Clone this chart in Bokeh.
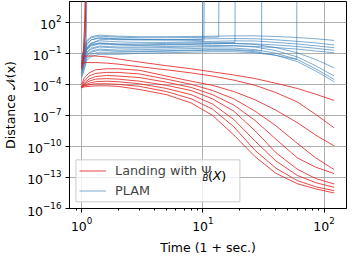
from bokeh.plotting import figure
from bokeh.models import Range1d, FixedTicker, Legend, LegendItem, Label, BoxAnnotation
from bokeh.embed import file_html
from bokeh.resources import INLINE

# time axis (1 + seconds) and log10 of the distance
t_red = [1, 1.05, 1.15, 1.3, 1.6, 2, 3, 5, 8, 12, 18, 27, 40, 60, 85, 121]
red_1 = [-2.0, -1.27, -1.27, -1.27, -1.35, -1.55, -1.85, -2.2, -2.5, -2.8, -3.1, -3.45, -3.9, -4.4, -4.95, -5.56]
red_2 = [-2.2, -1.9, -1.9, -1.9, -1.95, -2.05, -2.3, -2.6, -2.9, -3.2, -3.6, -4.1, -4.8, -5.7, -6.9, -8.2]
red_3 = [-4.0, -3.4, -2.9, -2.6, -2.5, -2.5, -2.65, -3.2, -3.7, -4.1, -4.7, -5.5, -6.5, -7.7, -8.9, -9.95]
red_4 = [-4.2, -3.7, -3.2, -2.95, -2.85, -2.85, -3.0, -3.5, -4.0, -4.6, -5.4, -6.6, -8.0, -9.7, -11.1, -12.24]
red_5 = [-4.25, -3.9, -3.5, -3.25, -3.15, -3.2, -3.35, -3.8, -4.3, -5.0, -6.0, -7.5, -9.3, -11.1, -12.0, -12.63]
red_6 = [-4.3, -4.0, -3.7, -3.5, -3.45, -3.5, -3.7, -4.1, -4.6, -5.4, -6.6, -8.5, -10.6, -12.2, -13.1, -13.63]
red_7 = [-4.3, -4.1, -3.9, -3.75, -3.7, -3.75, -3.95, -4.4, -5.0, -5.9, -7.4, -9.5, -11.4, -12.8, -13.5, -13.95]
red_8 = [-4.3, -4.15, -4.05, -3.95, -3.95, -4.0, -4.2, -4.7, -5.4, -6.4, -8.1, -10.4, -12.1, -13.3, -13.9, -14.28]
red_9 = [-4.35, -4.25, -4.2, -4.15, -4.15, -4.2, -4.5, -5.0, -5.8, -7.0, -8.9, -11.0, -12.6, -13.6, -14.1, -14.5]
red_div_t1 = [1, 1.03, 1.06, 1.09]
red_div_1 = [-2.4, -1.0, 2.0, 8.0]
red_div_t2 = [1, 1.04, 1.07, 1.1]
red_div_2 = [-2.6, -1.5, 1.0, 8.0]

t_blue = [1, 1.05, 1.1, 1.2, 1.4, 1.7, 2, 3, 5, 8, 12, 18, 27, 40, 60, 85, 121]
blue_1 = [-1.4, -0.5, 0.2, 0.6, 0.75, 0.7, 0.65, 0.6, 0.6, 0.62, 0.65, 0.68, 0.68, 0.62, 0.52, 0.4, 0.24]
blue_2 = [-1.8, -0.9, -0.1, 0.3, 0.45, 0.4, 0.35, 0.3, 0.3, 0.35, 0.4, 0.42, 0.4, 0.3, 0.15, 0.0, -0.2]
blue_3 = [-2.0, -1.2, -0.4, 0.0, 0.2, 0.15, 0.1, 0.05, 0.05, 0.1, 0.15, 0.2, 0.18, 0.05, -0.1, -0.28, -0.46]
blue_4 = [-2.3, -1.5, -0.7, -0.3, -0.1, -0.15, -0.2, -0.25, -0.2, -0.15, -0.1, -0.05, -0.1, -0.2, -0.35, -0.52, -0.72]
blue_5 = [-2.6, -1.8, -1.0, -0.6, -0.4, -0.45, -0.5, -0.5, -0.45, -0.4, -0.35, -0.3, -0.35, -0.45, -0.6, -0.78, -0.95]
blue_6 = [-2.0, -1.3, -0.6, -0.2, -0.05, -0.1, -0.15, -0.2, -0.15, -0.1, -0.05, -0.05, -0.15, -0.45, -0.95, -1.6, -2.4]
blue_7 = [-2.4, -1.6, -0.9, -0.5, -0.3, -0.35, -0.4, -0.4, -0.35, -0.3, -0.25, -0.25, -0.4, -0.75, -1.35, -2.2, -3.2]
blue_8 = [-2.8, -2.0, -1.2, -0.8, -0.6, -0.65, -0.7, -0.65, -0.6, -0.55, -0.5, -0.5, -0.65, -1.0, -1.6, -2.5, -3.53]
blue_9 = [-3.2, -2.4, -1.5, -1.1, -0.9, -0.9, -0.9, -0.85, -0.8, -0.75, -0.7, -0.7, -0.85, -1.2, -1.8, -2.7, -3.75]

blue_d1_t = [1, 1.05, 1.1, 1.2, 1.4, 1.7, 2, 3, 5, 8, 10.2, 10.3]
blue_d1 = [-1.7, -1.0, -0.2, 0.3, 0.5, 0.45, 0.4, 0.35, 0.3, 0.25, 0.2, 8]
blue_d2_t = [1, 1.05, 1.1, 1.2, 1.4, 1.7, 2, 3, 5, 8, 9.95, 10.0]
blue_d2 = [-2.1, -1.4, -0.6, -0.1, 0.3, 0.35, 0.3, 0.3, 0.3, 0.32, 0.34, 8]
blue_d3_t = [1, 1.05, 1.1, 1.2, 1.4, 1.7, 2, 3, 5, 8, 12, 13.5, 13.6]
blue_d3 = [-1.5, -0.6, 0.1, 0.5, 0.65, 0.6, 0.55, 0.5, 0.5, 0.52, 0.55, 0.57, 8]
blue_d4_t = [1, 1.05, 1.1, 1.2, 1.4, 1.7, 2, 3, 5, 8, 12, 18.4, 18.5]
blue_d4 = [-2.2, -1.4, -0.5, -0.15, 0.0, -0.05, -0.1, -0.1, -0.05, 0.0, 0.02, 0.05, 8]
blue_d5_t = [1, 1.05, 1.1, 1.2, 1.4, 1.7, 2, 3, 5, 8, 12, 18, 27, 30.5, 30.6]
blue_d5 = [-2.9, -2.1, -1.3, -0.9, -0.7, -0.75, -0.8, -0.8, -0.75, -0.7, -0.65, -0.65, -0.75, -0.8, 8]
blue_d6_t = [1, 1.05, 1.1, 1.2, 1.4, 1.7, 2, 3, 5, 8, 12, 18, 27, 40, 59.5, 59.6]
blue_d6 = [-3.4, -2.6, -1.7, -1.3, -1.1, -1.1, -1.1, -1.0, -0.95, -0.9, -0.85, -0.85, -0.95, -1.2, -1.6, 8]
blue_e1_t = [1, 1.03, 1.06, 1.08]
blue_e1 = [-2.0, -1.2, 0.5, 8]
blue_e2_t = [1, 1.04, 1.07, 1.1]
blue_e2 = [-2.5, -1.6, 0.0, 8]
blue_e3_t = [1, 1.05, 1.09, 1.11]
blue_e3 = [-3.0, -2.0, -0.5, 8]

x_major = [1, 10, 100]
x_minor = [0.9, 2, 3, 4, 5, 6, 7, 8, 9, 20, 30, 40, 50, 60, 70, 80, 90]
y_major = [1e-16, 1e-13, 1e-10, 1e-7, 1e-4, 1e-1, 1e2]

RED = "#e41a1c"
BLUE = "#377eb8"
FONT = "DejaVu Sans"

p = figure(frame_width=277, frame_height=207, x_axis_type="log", y_axis_type="log",
           x_range=Range1d(0.794, 153), y_range=Range1d(1e-16, 1e4),
           output_backend="svg", toolbar_location=None,
           min_border_left=61, min_border_right=1, min_border_top=1, min_border_bottom=30)

blue_sets = [(t_blue, b) for b in [blue_1, blue_2, blue_3, blue_4, blue_5, blue_6, blue_7, blue_8, blue_9]]
blue_sets += [(blue_d1_t, blue_d1), (blue_d2_t, blue_d2), (blue_d3_t, blue_d3), (blue_d4_t, blue_d4),
              (blue_d5_t, blue_d5), (blue_d6_t, blue_d6), (blue_e1_t, blue_e1), (blue_e2_t, blue_e2),
              (blue_e3_t, blue_e3)]
red_sets = [(t_red, r) for r in [red_1, red_2, red_3, red_4, red_5, red_6, red_7, red_8, red_9]]
red_sets += [(red_div_t1, red_div_1), (red_div_t2, red_div_2)]

blue_r = []
for t, v in blue_sets:
    blue_r.append(p.line(t, [10.0 ** a for a in v], line_color=BLUE, line_alpha=0.65, line_width=1))
red_r = []
for t, v in red_sets:
    red_r.append(p.line(t, [10.0 ** a for a in v], line_color=RED, line_alpha=0.8, line_width=1))

p.xaxis.ticker = FixedTicker(ticks=x_major, minor_ticks=x_minor)
p.yaxis.ticker = FixedTicker(ticks=y_major, minor_ticks=[])

for ax in (p.xaxis[0], p.yaxis[0]):
    ax.axis_line_color = "black"
    ax.major_tick_line_color = "black"
    ax.minor_tick_line_color = "black"
    ax.major_tick_out = 4
    ax.major_tick_in = 0
    ax.minor_tick_out = 2
    ax.minor_tick_in = 0
    ax.major_label_text_font = FONT
    ax.major_label_text_font_size = "12.5px"
    ax.major_label_text_color = "black"
    ax.axis_label_text_font = FONT
    ax.axis_label_text_font_size = "12.5px"
    ax.axis_label_text_font_style = "normal"
    ax.axis_label_text_color = "black"
    ax.major_label_standoff = 4
    ax.axis_label_standoff = 6

p.xaxis.axis_label = "Time (1 + sec.)"
p.yaxis.axis_label = "Distance \U0001D4A9(x)"

p.xgrid.grid_line_color = "#b0b0b0"
p.ygrid.grid_line_color = "#b0b0b0"
p.xgrid.grid_line_width = 1
p.ygrid.grid_line_width = 1

p.outline_line_color = "black"
p.outline_line_width = 1
p.outline_line_alpha = 1
p.background_fill_color = "white"

# legend frame (white, semi-transparent, light-grey border) drawn as a box behind the legend entries
legend_box = BoxAnnotation(left=0.897, right=20.2, bottom=10 ** -15.35, top=10 ** -11.3,
                           fill_color="white", fill_alpha=0.8, line_color="#cccccc",
                           line_width=1, line_alpha=1)
p.add_layout(legend_box)

legend = Legend(items=[LegendItem(label="Landing with \u03a8", renderers=[red_r[0]]),
                       LegendItem(label="PLAM", renderers=[blue_r[0]])],
                location=(6, 6), margin=0, padding=4, spacing=5,
                glyph_width=27, glyph_height=15, label_height=15, label_width=121,
                label_standoff=9, label_text_font=FONT, label_text_font_size="12.8px",
                border_line_alpha=0, background_fill_alpha=0)
p.add_layout(legend)

# subscript and argument of the first legend entry, placed next to the legend text
label_parts = [("B", 9.95, -13.08, "8.5px", "italic"),
               ("(", 11.0, -12.78, "12.8px", "normal"),
               ("X", 12.09, -12.78, "12.8px", "italic"),
               (")", 14.2, -12.78, "12.8px", "normal")]
for txt, lx, ly, fs, st in label_parts:
    p.add_layout(Label(x=lx, y=10 ** ly, text=txt, level="overlay",
                       text_font=FONT, text_font_size=fs, text_font_style=st,
                       text_baseline="alphabetic", text_color="black"))

open("out.html", "w").write(file_html(p, INLINE))
